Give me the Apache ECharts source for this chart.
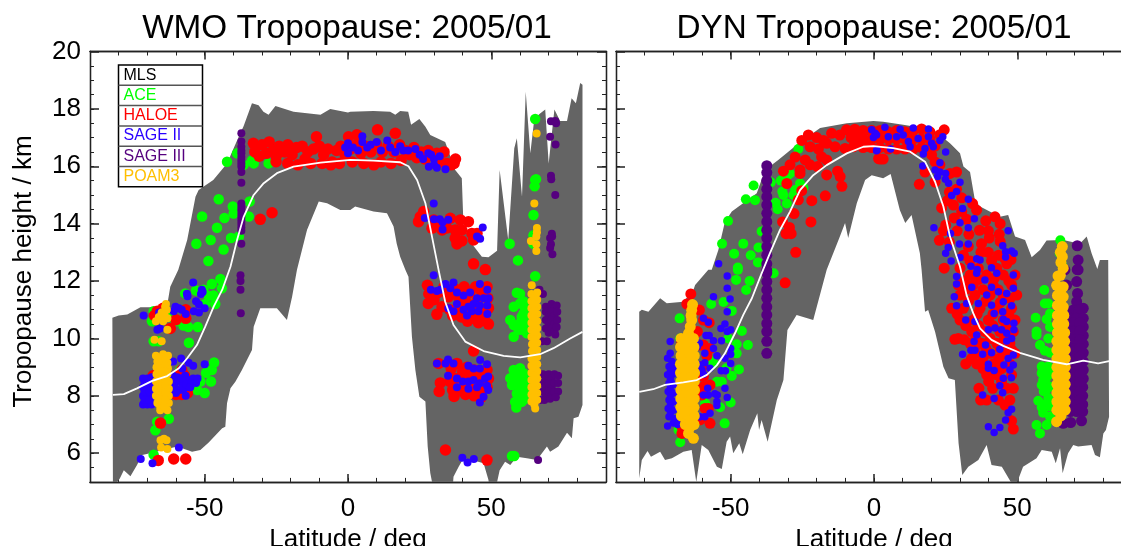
<!DOCTYPE html>
<html><head><meta charset="utf-8">
<style>html,body{margin:0;padding:0;background:#fff;overflow:hidden}#c{width:1121px;height:546px}</style>
<script src="https://cdn.jsdelivr.net/npm/echarts@6/dist/echarts.min.js"></script>
</head><body><div id="c"></div>
<script>
const panelTitles = ['WMO Tropopause: 2005/01','DYN Tropopause: 2005/01'];
const legendNames = ['MLS','ACE','HALOE','SAGE II','SAGE III','POAM3'];
const legendColors = ['#000000','#00ff00','#ff0000','#2a00ff','#55007f','#ffbf00'];
const latMajorTicks = [-50,0,50];
const heightMajorTicks = [6,8,10,12,14,16,18,20];

// ---- WMO grey band
const wmoUpperLat = [-82.2,-80,-77,-72.4,-66.6,-63,-62,-59.2,-56.1,-53.2,-52.1,-47,-42.2,-38.7,-36.4,-33.5,-31.2,-29.5,-27.7,-25.3,-19,-9.6,-6.2,0,0.8,8.9,14.7,16.5,18.2,21,22,24.9,27,28.7,33.9,37.4,39.7,40.3,43.2,46.7,49,52,52.9,55.9,58,58.9,60.7,62,63.6,65,67,68.8,70,72,74,76.4,78,79.5,81,81.8];
const wmoUpper = [10.72,10.8,10.83,11.09,11.09,11.2,11.8,12.39,13.43,14.94,15.17,15.52,16.1,16.9,17.4,18.2,18.13,17.9,17.8,18.1,17.9,17.8,18,17.87,17.9,17.93,17.9,17.8,17.93,17.9,17.45,17.65,17.38,17.09,16.85,15.87,15.58,13.9,13.3,12.85,12.83,13.06,15.87,13.43,16.63,16.98,14.94,18.6,16.45,17.66,17.84,17.98,16.1,17.98,17.58,17.58,18.37,18.2,18.9,18.84];
const wmoLowerLat = [-82,-79.6,-78.2,-75.9,-73.6,-71.8,-68.3,-59.6,-54.4,-51.5,-48.6,-43.9,-42.8,-42.2,-41,-39.3,-37,-33.5,-32.9,-30.6,-24.8,-21.3,-19.5,-17.8,-14.3,-10.2,-7.3,-2.7,0.8,2.5,8.9,13.6,15.9,17,18.2,20,21.1,22.3,23.5,24.9,27,27.8,28.7,29.5,36.6,36.8,38.6,40.3,43.2,47.3,49,49.2,51.8,52.9,54.8,56.6,58.9,62.4,65.9,69.4,70.5,73.4,76.4,78.1,78.7,80.4,81.8];
const wmoLower = [4.8,5.12,5.41,5.2,5.59,5.94,6.02,6.23,6.05,6.11,6.37,6.87,6.92,7.74,8.26,8.49,8.9,9.6,10.41,11.05,11.05,10.64,11.45,12.39,13.78,14.77,14.71,14.48,14.48,14.6,14.42,14.36,13.9,13.3,12.85,12.39,12.15,10.06,8.9,7.97,7.8,6.23,5.31,4.9,4.9,5.18,5.53,5.82,5.76,5.65,5.07,4.9,4.9,5.41,5.7,5.59,5.88,5.82,5.76,6.23,6.05,6.23,6.71,6.52,7.22,7.27,7.68];
// ---- DYN grey band
const dynUpperLat = [-81.9,-81,-78.7,-74.6,-72.3,-66.5,-63,-62.4,-57.8,-56.6,-54.3,-52,-49.6,-40.9,-38,-33.4,-27,-18.8,-9.5,-0.2,3.2,10.2,20.7,26.5,30,31.2,33.5,35.2,37,43.9,46.8,49.2,52.7,55,57.9,60.2,66,71.8,74.2,75.9,77.9,78.8,81.7];
const dynUpper = [10.93,11,10.93,11.4,11.23,11.28,11.69,11.86,12.39,12.39,13.08,14.07,14.42,15.06,15.87,16.22,16.74,17.33,17.5,17.58,17.55,17.45,17.27,16.8,16.45,15.99,15.8,14.82,14.6,14.24,14.3,13.55,13.43,12.83,13.08,13.41,13.43,13.3,13.55,12.97,12.42,12.73,12.73];
const dynLowerLat = [-81.9,-81,-79,-77.8,-74.6,-72.9,-70.5,-66.5,-63.6,-62,-60.1,-57.8,-54.8,-53.1,-51.4,-50.2,-49.1,-47,-45.8,-43.2,-40.7,-40.1,-39.2,-37.1,-33.9,-31.6,-30.2,-27,-21.2,-16.5,-11.9,-10.1,-9,-6,-3.1,-0.8,3.2,5.8,9,10.9,13.1,16,16.6,17.8,18.9,21.3,24.2,26,28.2,29.5,30.8,32.9,36.4,39.3,41,44.6,48,49.8,52,56.7,58.5,62,63.4,64.9,65.8,67.7,69.5,71.2,75.9,77.1,78.8,80,80.9,82];
const dynLower = [5.13,5.76,6.08,5.88,6.05,5.76,5.82,6.05,6.11,5,6.29,6.11,5.53,5.45,6.4,6.58,6,6.35,5.96,6.81,7.39,6.81,7.16,6.4,7.85,8.55,10.29,10.82,10.64,12.39,13.55,14.02,13.5,14.71,15.52,15.69,15.58,15.73,14.48,14.02,14.3,12.97,12.39,10.93,10.99,10.23,9.01,8.61,8.55,6.35,5.24,5.53,5.76,6.29,5.59,5.53,4.95,4.95,5.53,5.82,6.11,6.05,5.65,6.17,5.3,6,6.29,6.23,6.29,5.94,5.86,6.69,6.81,7.27];

// ---- white MLS means
const wmoMlsLat = [-82,-78.2,-73.6,-68.3,-63.1,-59,-56.1,-52.7,-49.8,-46.9,-43.9,-41,-38.7,-36.4,-32.9,-29.4,-24.8,-19,-9.6,0.8,8.9,18.2,21.1,24.1,27,29.3,31.6,33.9,36.8,40.9,47.3,54.3,60.1,67,71.7,77.5,81.8];
const wmoMls = [8.03,8.06,8.26,8.52,8.69,8.96,9.31,9.77,10.41,11.1,11.69,12.5,13.43,14.24,15,15.41,15.76,15.99,16.13,16.22,16.2,16.14,16,15.52,14.71,13.55,12.39,11.28,10.47,9.89,9.56,9.39,9.34,9.45,9.66,10,10.23];
const dynMlsLat = [-81.9,-77,-72.9,-66.5,-61.8,-58.3,-54.8,-52,-48.5,-45.6,-42.6,-39.2,-36.3,-32.8,-29.3,-25.8,-21.2,-16.5,-9.5,-3.7,-0.2,6.7,12.6,17.8,21.3,24.2,26.5,30,32.3,34.6,37,41,45.1,50.9,59,67.2,73,78.2,82];
const dynMls = [8.14,8.23,8.38,8.47,8.55,8.73,9.07,9.48,10.18,10.82,11.4,12.27,12.97,13.78,14.42,15.17,15.69,16.04,16.45,16.68,16.7,16.63,16.51,16.16,15.46,14.6,13.55,12.5,11.51,10.88,10.35,9.95,9.74,9.5,9.25,9.1,9.23,9.13,9.21];

// ---- WMO instruments [lat, height]
const wmoAce = [[-44.5,12.07],[-47.5,11.9],[-44,11.75],[-50.4,11.7],[-53,11.67],[-56.8,11.57],[-46.9,11.5],[-48.6,11.48],[-46.3,11.2],[-49.8,11.2],[-67.8,10.95],[-68.4,10.6],[-62,10.75],[-60,10.6],[-57.4,10.45],[-55.7,10.4],[-52.4,10.4],[-67.8,9.9],[-66,9.9],[-55.5,9.85],[-46.7,9.16],[-47.5,8.9],[-49.5,8.8],[-47.8,8.5],[-51.5,8.5],[-52.6,8.2],[-50,8.1],[-58.5,8.9],[-53.8,8.4],[-62.5,7.2],[-66.6,7.1],[-67.2,6.8],[-67.8,5.95],
[-42.2,16.16],[-38.7,16.45],[-36.4,16.05],[-33.5,16.2],[-32.9,16.1],[-27.7,16.1],[-24.8,16.33],[-45.1,14.85],[-34.3,14.77],[-40.2,14.6],[-39.9,14.35],[-34.6,14.25],[-43.1,14.2],[-50.9,14.25],[-45.7,13.86],[-47.9,13.43],[-52.9,13.3],[-40.8,13.5],[-38.1,13.55],[-43.4,13.1],[-48.7,12.7],
[65.3,17.65],[65.3,15.52],[65.6,15.55],[65.1,15.3],[64.7,14.3],[64.7,13.6],[64.7,13.3],[56.4,13.3],[59.3,12.72],[65.3,12.17],[60,11.56],[58.9,11.59],[61.2,11.3],[57.8,11.1],[60,11.22],[61.8,11.05],[60.6,10.76],[56.6,10.64],[57.8,10.47],[60,10.53],[61.8,10.47],[59.5,10.3],[57.8,10.06],[61.2,10.87],[60.6,10.3],[62.4,10.18],[57.8,8.9],[60,8.96],[56.6,8.61],[58.9,8.67],[61.2,8.79],[57.2,8.38],[59.5,8.38],[61.8,8.44],[58.9,8.08],[61.2,8.08],[58.3,7.79],[60.6,7.79],[58.7,7.59],[61.8,7.9],[57.2,5.9],[58,5.9],[62.5,8.7],[62.5,8.2],[62.5,10.7],[60,8.7],[60,8.2],[60,7.95]];
const wmoHaloe = [[-33,16.8],[-32.5,16.5],[-31,16.35],[-30,16.75],[-28.5,16.45],[-27.5,16.85],[-26,16.55],[-25,16.35],[-24,16.7],[-22,16.5],[-21,16.75],[-19.5,16.4],[-18,16.65],[-17.5,16.05],[-16,16.7],[-15,16.25],[-14,16.5],[-12,16.6],[-11,17.03],[-10,16.7],[-8.5,16.4],[-7,16.6],[-5.5,16.15],[-4,16.55],[-2.5,16.7],[-1,16.4],[0.2,17.03],[-3,16.1],[1,16.6],[1.5,16.15],[3.1,17.1],[3,16.75],[4.5,16.45],[5.5,16.1],[6,16.7],[8,16.5],[9,16.05],[10.3,17.27],[10,16.75],[11.5,16.15],[12,16.5],[14,16.7],[15,16.1],[16.5,17.15],[16,16.5],[18,16.75],[18.5,16.2],[20,16.55],[21.5,16.4],[23,16.65],[24,16.3],[25.5,16.5],[27,16.25],[28,16.55],[29.5,16.4],[31,16.45],[32,16.15],[33.5,16.5],[34.5,16.1],[36,16.05],[37.5,16.25],[37,16.1],[-21,16.1],[-25.1,16.16],[-30.6,14.15],[-26.5,14.38],[-13,16.1],[-9,16.1],[-6,16.05],
[24.6,14.07],[26.4,14.42],[29.9,14.13],[29.3,13.84],[32.8,13.78],[35.7,14.19],[37.4,13.78],[39.2,14.13],[42,14.07],[39.7,13.78],[37.4,13.49],[39.7,13.4],[38,13.29],[43.2,13.66],[45,13.66],[43.8,13.43],[25.2,14.24],[43.8,12.6],[47.9,12.4],[34.5,13.85],[32,14],
[27.7,11.85],[28.2,11.55],[28,11.22],[30,11.35],[31,10.84],[31.5,11.6],[32.8,11.1],[33.5,11.8],[35,11.45],[35.5,11],[36.5,10.8],[37,11.75],[38.5,11.45],[39,11.05],[39.5,10.75],[40.5,11.8],[41,11.3],[41.7,10.6],[42.5,11.6],[43,11.05],[43.5,10.7],[44.5,11.8],[45,11.3],[45.5,10.55],[46.5,11.65],[47,11],[47.5,10.7],[48.5,11.8],[48.8,11.4],[49,11.05],[49,10.5],[45,10.9],
[31.6,9.13],[38,9.13],[41.5,9],[32.2,8.45],[31.8,8.15],[36,8.95],[40,8.85],[42,8.85],[44,8.9],[46,8.85],[48.5,8.9],[35.5,8.5],[37.5,8.6],[39.5,8.65],[41.5,8.6],[43.5,8.65],[45.5,8.6],[47.5,8.65],[49,8.6],[36.5,8.2],[38.5,8.2],[40.5,8.2],[42.5,8.25],[44.5,8.2],[46.5,8.2],[48.5,8.3],[37,7.98],[41,8.05],[44,8],[46.5,7.95],[43.8,9.56],[34,6.11],[48.5,5.76],
[-66.5,10.95],[-67.5,10.8],[-64.5,11.05],[-60,10.65],[-56.6,11],[-56.6,10.7],[-62,10.35],[-58,8.9],[-57,8.7],[-60,8.7],[-60,8.05],[-58,8.05],[-56,8.1],[-68,8.7],[-68,8.2],[-65.4,7.05],[-66.2,5.75],[-60.8,5.8],[-56.6,5.8]];
const wmoSage2 = [[-71.5,7.7],[-70,7.7],[-68.5,7.7],[-71.5,8],[-70,8],[-68.5,8],[-71.5,8.3],[-70,8.3],[-68.5,8.3],[-71.5,8.6],[-70,8.6],[-68.5,8.65],[-71,7.85],[-69.2,7.85],[-71,8.15],[-69.2,8.15],[-71,8.45],[-69.2,8.45],[-62,8.1],[-60.5,8.4],[-59,8.2],[-58,8.45],[-56.8,8.7],[-55.5,8.55],[-54,8.6],[-53,8.45],[-61,8.7],[-59.5,8.65],[-57.5,8.2],[-55.5,8.3],[-61,8.15],[-60,8.55],[-58,8.6],[-56.5,8.4],[-54.5,8.45],[-52.5,8.6],
[-54,11.95],[-56.2,11.56],[-56,11.47],[-51,11.7],[-51.3,11.55],[-50.7,11.62],[-53,11.3],[-52,11.18],[-53.8,10.95],[-52,10.9],[-50,11.05],[-60.2,11.1],[-59,11.05],[-60.8,10.95],[-56.6,10.85],[-58,11],[-71.3,10.8],[-65.9,10.9],[-66.5,10.3],[-65.6,10.35],[-61,9.2],[-58.2,9.3],[-54,9.05],[-55.6,9.15],[-57.8,8.95],[-50,9.1],[-55,8.3],[-56.6,8],[-60,8.1],[-59,6.2],[-72.3,5.8],[-68.2,5.65],
[-1,16.65],[0,16.8],[0,16.45],[1.7,16.65],[3.5,16.55],[5,17.05],[5,16.85],[6.7,16.65],[7.9,16.75],[10,16.85],[11.5,16.55],[13.7,16.9],[14.7,16.65],[16.5,16.5],[18.2,16.7],[19.3,16.55],[21,16.55],[23.5,16.6],[25,16.4],[26.2,16.25],[28,16.45],[29,16.4],[28.2,15.98],[30,16.25],[30,16.05],[31,15.95],[32,16.35],[34,15.9],
[29.9,14.7],[26.8,14.2],[30,14.15],[32,14.15],[33,14.05],[35,14.14],[33,13.8],[47,13.87],[45,13.55],[46.1,13.47],
[29.9,12.2],[28.9,11.7],[31,11.65],[32.2,11.7],[34,11.9],[36.8,11.95],[35.7,11.75],[38,11.6],[40.3,11.5],[42.6,11.6],[46,11.9],[48.6,11.7],[45,11.4],[47.3,11.4],[49,11.4],[38,11.2],[42,11.1],[43.8,11.2],[46,11.15],[48.6,11.15],[35,11.05],[36.8,10.95],[40.3,11],[43.2,10.95],[45.5,10.95],[48.6,10.85],[41.5,10.8],
[34.9,9.27],[31,9.13],[34,9.13],[36.8,9.13],[42,9.05],[43.8,8.95],[46,8.95],[46.1,9.25],[48.5,9.1],[34.9,8.7],[38,8.6],[40,8.5],[42,8.5],[43.8,8.55],[46,8.44],[47.8,8.6],[48.9,8.67],[48.5,8.35],[38,8.3],[42,8.25],[45,8.3],[48.9,8.2],[47.3,7.97],[46,7.77],[39.9,5.84],[41.7,5.68],[43.9,5.8]];
const wmoSage3 = [[-37.5,12.2],[-37.5,12],[-37.5,11.7],[-37.4,10.88],[-37.2,17.15],[-37.2,16.86],[-37.2,16.68],[-37.2,16.55],[-37.2,16.45],[-37.2,16.32],[-37.2,16.2],[-37.2,16.1],[-37.2,15.99],[-37.2,15.8],[-37.2,15.43],[-37.2,14.7],[-37.2,14.58],[-37.2,14.46],[-37.2,14.34],[-37.2,14.22],[-37.2,14.1],[-37.2,13.99],[-37.2,13.87],[-37.2,13.75],[-37.2,13.3],
[70.8,17.57],[72.3,17.58],[72.6,17.5],[70.5,17.03],[72.4,16.76],[70.8,15.67],[70.9,15.55],[72.3,15],[71.1,13.65],[71.2,13.55],[70.5,13.5],[70.8,13.28],[70.5,13.15],[71.3,12.93],[66.8,11.7],[68,11.55],
[69,11.1],[70,11.05],[71,11.2],[72,11.05],[72.8,11.15],[69,10.93],[70,10.8],[71,10.93],[72,10.8],[73,10.93],[69,10.64],[70,10.5],[71,10.64],[72,10.5],[73,10.64],[69,10.35],[70,10.2],[71,10.35],[72,10.25],[72.8,10.4],[72.3,10.14],[69.4,9.9],[67.7,9.9],
[68,8.75],[69,8.6],[70,8.75],[71,8.6],[72,8.75],[73.3,8.7],[68,8.45],[69,8.3],[70,8.45],[71,8.3],[72,8.45],[73.3,8.45],[68,8.15],[69,8],[70,8.15],[71,8],[72,8.15],[73.3,8.15],[67,7.85],[68.5,7.85],[70.5,7.9],[72.5,7.95],[66.3,5.76]];
const wmoPoam = [[-67,9.4],[-64.5,9.45],[-62.8,9.4],[-66.5,9.2],[-64,9.2],[-63,9.15],[-66.8,9],[-64.8,8.95],[-62.8,8.95],[-66.8,8.75],[-65,8.75],[-63,8.75],[-67,8.5],[-65,8.5],[-62.5,8.5],[-67,8.25],[-65,8.25],[-62.5,8.25],[-67,8],[-65,8],[-62.5,8],[-66.5,7.75],[-64.5,7.75],[-62.5,7.75],[-65.5,7.5],[-63,7.5],
[-66,9.3],[-63.8,9.3],[-65.8,9.1],[-63.9,9.05],[-65.8,8.85],[-63.9,8.85],[-66,8.62],[-63.8,8.62],[-66,8.38],[-63.8,8.38],[-66,8.12],[-63.8,8.12],[-66,7.88],[-63.8,7.88],[-65.5,7.62],[-64,7.62],
[-63.5,11.2],[-63.2,11],[-64,10.8],[-66,10.75],[-67,10.6],[-64.5,10.6],[-63,10.7],[-65,10.9],[-63.8,11.1],[-67.5,9.95],[-65,9.9],[-63,10.3],[-65.4,6.45],[-63.3,6.45],[-65.2,6.2],[-63,6.15],[-64.2,6.5],
[65.8,17.14],[65,14.7],[65.9,13.85],[65.9,13.7],[65.7,13.55],[63.8,13.4],[65.7,13.28],[65.7,13.05],[64.1,11.85],
[64,11.55],[66,11.6],[64,11.3],[66,11.35],[64,11.05],[66,11.1],[64,10.8],[66,10.85],[64,10.55],[66,10.6],[64,10.3],[66,10.35],[64,10.05],[66,10.1],[64.2,9.8],[66,9.85],[64.2,9.55],[66,9.6],[64,9.3],[66,9.35],[64,9.05],[66,9.1],[64,8.8],[66,8.85],[64,8.55],[66,8.6],[64,8.3],[66,8.35],[64,8.05],[66,8.1],[64,7.8],[66,7.85],[65.3,7.56],
[65,11.45],[65,11.2],[65,10.95],[65,10.7],[65,10.45],[65,10.2],[65,9.95],[65,9.7],[65,9.45],[65,9.2],[65,8.95],[65,8.7],[65,8.45],[65,8.2],[65,7.95],[65,7.7]];

// ---- DYN instruments [lat, height]
const dynAce = [[-67.8,10.7],[-67.6,10],[-67.6,6.38],[-68.2,6.81],[-56.8,11.2],[-52.5,11.27],[-49.6,10.96],[-48.1,12.04],[-43.4,12],[-44.6,11.69],[-47.5,12.39],[-35,12.27],[-46.1,10.26],[-50.8,10],[-47.9,9.8],[-44,9.77],[-47.9,9.48],[-51.5,8.96],[-47.1,8.92],[-49.6,8.69],[-53.1,8.49],[-54.8,8.49],[-50,7.77],[-53.7,7.6],[-52.1,7.04],[-58.9,7.74],[-57.2,9.25],[-61.8,7.1],[-56,9.13],
[-26.4,16.6],[-32.5,15.5],[-36,15.44],[-42,15.33],[-44.7,14.85],[-41.5,14.82],[-32,15.12],[-31.6,15],[-30.4,14.7],[-34.3,14.73],[-33.6,14.5],[-28.1,15],[-25.8,15.4],[-24.6,15.25],[-27.5,15.17],[-29.3,15.75],[-30.4,15.64],[-50.9,14.09],[-53,13.3],[-45.6,13.3],[-48.8,12.95],[-43,12.9],[-40.3,13.17],[-40.5,12.65],[-47.5,12.47],[-39.2,13.73],
[59.4,11.69],[59.6,11.22],[60.8,11.22],[56.4,10.72],[60.2,10.67],[61.4,10.87],[61.4,10.4],[56.7,10.24],[57.9,9.77],[59.6,9.57],[56.7,10.12],[60.8,10],[58.5,9.02],[60.8,9.02],[58.5,8.79],[60.8,8.73],[58.5,8.38],[61.4,8.32],[57.3,7.83],[60.8,7.92],[59,7.41],[61.4,7.27],[56.7,6.98],[60.2,6.98],[57.9,6.69],[61.4,7.62],[65,13.42],[64.8,12.97],[65.4,12.6],[60,8.6],[60,8.2],[59.5,7.7],[59,8.9],[59,8.55],[59.2,8.15],[61.5,9.5],[61.5,8.9],[58.5,7.6]];
const dynHaloe = [[-25.2,16.9],[-22.9,17.09],[-20,17],[-17.6,16.9],[-14.8,17.15],[-11.9,17.09],[-9.6,17.27],[-6.7,17.29],[-3.7,17.2],[-22.3,16.68],[-19.4,16.6],[-16.5,16.8],[-13.6,16.68],[-10.1,16.62],[-7.2,16.68],[-4.8,16.9],[-2.5,16.8],[-27.5,16.32],[-29.3,16.05],[-31.6,15.83],[-24,16.22],[-22.3,16.05],[-25.8,15.87],[-25.8,15.75],[-19.7,15.99],[-16.5,16.22],[-18.3,16.33],[-16.5,15.7],[-12.7,15.83],[-11.8,15.64],[-11.2,15.3],[-17,14.97],[-21.7,14.8],[-30.4,15.4],[-25.2,15.15],[-26.4,14.83],[-27.9,14.35],[-31.9,14.06],[-29.5,13.87],[-30.7,13.65],[-28.9,13.65],[-22,14.06],[-27.3,13],[1.6,16.27],[-1.4,16.68],[-8,17],[-5,17.1],
[-3.8,17.25],[-0.8,17.25],[2.1,17.25],[5,17.2],[7.9,17.25],[10.8,17.2],[13.7,17.25],[16.6,17.3],[19.5,17.2],[-3.8,16.95],[-0.8,16.95],[2.1,16.95],[5,16.95],[7.9,16.95],[10.8,16.95],[13.7,16.95],[16.6,16.95],[19.5,16.95],[-3.8,16.65],[-0.8,16.65],[2.1,16.65],[5,16.6],[7.9,16.6],[10.8,16.6],[13.7,16.6],[16.6,16.65],[19.5,16.65],[2.1,16.25],[3.2,16.25],
[24.5,17.27],[23,17.1],[21.3,16.7],[20.1,16.4],[21.3,16.15],[23,16.05],[17.8,15.8],[21.3,15.45],[15.8,15.37],[28.8,15.8],[26.5,15.75],[28.8,15.2],[26.3,15.1],[25.6,14.8],[30.6,14.9],[27.7,14.65],[23.6,14.55],[34.4,14.7],[35.8,14.47],[30.6,14.42],[28,14.2],[32.3,14.15],[25,13.95],[24.2,13.75],[29,13.75],[39,14.1],[42.2,14.24],[44,14],[36.8,13.77],[39.9,13.75],[33.1,13.63],[37.5,13.3],[40.2,13.5],[43.7,13.63],[44,13.38],[22.8,13.42],[26.3,13.36],[32.9,13.2],[37.3,13],[39.9,13],[43.4,12.9],[45.5,12.8],[47.8,12.75],[31.2,12.9],[33.5,12.7],[41,12.7],[24.5,12.45],[30,12.45],[36.4,12.45],[42.8,12.45],[46.3,12.6],
[33.5,12.21],[39.3,12.21],[45.1,12.21],[49.2,12.21],[29.4,11.86],[34.6,11.86],[41.6,11.86],[48,11.86],[30,11.51],[35.2,11.51],[40.5,11.51],[45.1,11.51],[49.8,11.51],[27.1,11.05],[31.2,11.05],[37,11.05],[42.8,11.05],[48,11.05],[30,10.64],[34.6,10.64],[39.9,10.64],[45.1,10.64],[49.2,10.64],[34.1,10.24],[38.7,10.24],[43.9,10.24],[48.6,10.24],[29.4,10],[28.2,9.97],[33.5,9.83],[37.5,9.83],[42.8,9.83],[47.4,9.83],[35.2,9.48],[40.5,9.48],[45.7,9.48],[49.2,9.48],[32,9.11],[35.8,9.11],[41.6,9.11],[47.4,9.11],[39.3,8.73],[42.8,8.73],[48,8.73],[36.6,8.26],[41.4,8.26],[46.3,8.26],[48.6,8.26],[37.2,7.85],[39.3,7.85],[43.4,7.85],[47.4,7.85],[45.7,7.68],[48,7.13],[48.6,6.84],
[31.5,12],[36.5,12.05],[42,12.1],[47,12],[32,11.7],[38,11.7],[43.3,11.7],[47.5,11.4],[33,11.3],[39,11.3],[44,11.25],[29,10.85],[36,10.85],[41.5,10.85],[47,10.85],[32,10.45],[36.5,10.45],[41.5,10.45],[46,10.4],[31.5,9.95],[35.5,10],[40.5,10],[45.5,10],[35,9.65],[39,9.65],[44,9.65],[48,9.6],[34,9.3],[38,9.3],[43.5,9.3],[38,8.95],[44.5,8.95],[40,8.5],[44.5,8.5],
[-60.7,9.77],[-59.5,9.77],[-57.2,9.65],[-58.3,9.4],[-60,9.02],[-59.5,8.67],[-57.2,8.38],[-59.5,8.32],[-60,8.03],[-58.9,7.56],[-57.8,7.56],[-57.2,7.04],[-60.7,7.16],[-67,6.69],[-67,6.92],[-59.5,10.64],[-57.5,10.55],[-61.6,10.24],[-62.4,10.18],[-63.9,11.55],[-65.3,11.2],[-60.9,10.99],[-31,11.94],[-67,9.89]];
const dynSage2 = [[-72,9.31],[-70.5,9.2],[-71.5,9.02],[-69.8,8.95],[-72,8.73],[-70.2,8.75],[-71.5,8.44],[-69.5,8.4],[-71.8,8.15],[-70,8.1],[-71.5,7.85],[-69.8,7.8],[-71.8,7.56],[-70,7.5],[-71.5,7.27],[-69.5,7.2],[-72,6.95],[-70,7.05],[-68.5,7],[-71.1,9.89],[-71.1,9.48],[-71,8.88],[-71,8.58],[-71,8.3],[-71,8],[-71,7.7],[-71,7.4],
[-59.5,10.7],[-57.8,10.56],[-56,11.45],[-51.2,12.18],[-51.2,11.75],[-50.2,11.37],[-51.2,10.93],[-52,10.5],[-50,10.3],[-53.4,10.35],[-51.2,10.24],[-53.2,9.92],[-56,9.92],[-58.6,10.1],[-57.5,10.1],[-60.9,9.83],[-61.6,9.72],[-56,9.65],[-50,9.65],[-59,9.48],[-50,9.45],[-52,9.31],[-54.8,9.4],[-59,9.15],[-60.7,9.07],[-50,9.13],[-51.8,8.87],[-53.3,8.87],[-57.2,8.96],[-60,8.9],[-59.5,8.75],[-52,8.26],[-58,8.26],[-59.5,8.03],[-57.8,8.03],[-55.5,8.07],[-54.7,8.03],[-51.2,7.94],[-54.8,7.8],[-54.8,7.66],[-57.2,7.39],[-60.7,7.27],[-59,7.27],[-54.2,12.6],
[-0.8,17.27],[0.4,17.15],[-0.2,17],[1,16.57],[3.8,17.36],[9.1,17.29],[13.7,17.33],[19,17.3],[15.4,16.97],[0.9,17.09],[5,17.03],[7.9,17.03],[10.2,17.09],[12,16.86],[19,17.03],[20.1,16.8],[24,17.03],[23,16.9],[17.8,16.62],[20.7,16.68],[12.6,16.68],[5.8,16.6],[0.9,16.54],[25,16.5],[17.2,16.43],[17,16.01],[23,16.12],[21.3,15.87],[23,15.8],[25,15.75],[22.2,15.64],[24.9,15.55],[26,15.41],[30,15.44],[28.8,15.12],[27.1,14.98],[32.9,14.85],[30.9,14.53],[35,14.17],[30,14.03],[20.9,13.86],[32.9,13.86],[26.7,13.66],[46.8,13.75],[29.8,13.29],[25.9,13.17],[32.9,13.29],[44.9,13.23],[48,13.05],[48.9,12.97],[45.9,13.02],[25,12.97],[45.9,12.84],[30,12.82],[37,12.73],[35.8,12.78],[26.9,12.7],[33.8,12.52],[41,12.46],[36,12.4],
[28.8,12.16],[35.8,12.27],[38.7,12.04],[42.8,12.27],[48.6,12.21],[28.8,11.9],[34.1,11.78],[48.6,11.75],[41,11.78],[43.4,11.63],[39.3,11.51],[46.3,11.57],[28,11.45],[32.3,11.22],[36.4,11.22],[41,11.16],[45.1,11.28],[48,11.14],[28.8,11.14],[44.9,10.93],[41.9,10.87],[32,10.64],[35.2,10.59],[45.1,10.67],[48.8,10.53],[46.3,10.59],[39.9,10.3],[42.2,10.36],[44.5,10.3],[48.8,10.3],[46.3,10.18],[35.8,10.12],[48,10],[46.3,9.91],[34.9,9.89],[38.9,9.77],[43.9,9.62],[33.8,9.59],[35.2,9.59],[30.9,9.45],[41,9.5],[37.9,9.45],[48.6,9.42],[46.8,9.3],[45.3,9.07],[39.9,9.1],[48.6,9.07],[47.4,8.9],[39.9,8.96],[41.9,8.88],[45.1,8.61],[47.9,8.63],[43.9,8.35],[44.9,8.11],[37.9,8.03],[41.9,7.91],[48,7.53],[46.8,7.41],[45.9,7.16],[39.9,6.92],[43.9,6.9],[41.9,6.72]];
const dynSage3 = [[-37.4,16.02],[-37.4,15.78],[-37.4,15.5],[-37.4,15.2],[-37.4,14.94],[-37.4,14.65],[-37.4,14.36],[-37.4,14.07],[-37.4,13.77],[-37.4,13.5],[-37.4,13.2],[-37.4,12.9],[-37.4,12.6],[-37.4,12.37],[-37.4,12.28],[-37.4,11.98],[-37.4,11.69],[-37.4,11.4],[-37.4,11.1],[-37.4,10.82],[-37.4,10.52],[-37.4,10.24],[-37.4,9.9],[-37.4,9.48],
[70.9,13.23],[71.2,12.73],[70.9,12.4],[71.2,12.39],[66.6,12.39],[70.7,11.98],[67.2,11.86],[71,11.57],[70.7,11.28],[73,11.05],[69.5,10.99],[71.5,11],
[68.5,10.7],[70.7,10.7],[73,10.7],[68.5,10.4],[70.7,10.4],[73,10.4],[68.5,10.1],[70.7,10.1],[73,10.1],[68.5,9.8],[70.7,9.8],[73,9.8],[68.5,9.5],[70.7,9.5],[73,9.5],[68.5,9.2],[70.7,9.2],[73,9.2],[68.5,8.9],[70.7,8.9],[73,8.9],[68.5,8.6],[70.7,8.6],[73,8.6],[68.5,8.3],[70.7,8.3],[72.8,8.3],[68.5,8],[70.7,8],[72.8,8],[68.5,7.7],[70.7,7.7],[72.8,7.7],[68.5,7.45],[70.7,7.45],[72.8,7.45],[66,7.04],[68.6,7.07],[72.4,7.13],
[69.6,10.55],[71.8,10.55],[69.6,10.25],[71.8,10.25],[69.6,9.95],[71.8,9.95],[69.6,9.65],[71.8,9.65],[69.6,9.35],[71.8,9.35],[69.6,9.05],[71.8,9.05],[69.6,8.75],[71.8,8.75],[69.6,8.45],[71.8,8.45],[69.6,8.15],[71.8,8.15],[69.6,7.85],[71.8,7.85],[69.6,7.55],[71.8,7.55]];
const dynPoam = [[-63.3,11.18],[-63.6,10.98],[-63.6,10.64],[-64.1,10.41],[-64.7,10.18],[-67.3,10],[-65,10],[-63,10],[-67.5,9.7],[-65.2,9.7],[-62.8,9.7],[-67.3,9.4],[-65,9.4],[-62.7,9.4],[-67.5,9.1],[-65,9.1],[-62.7,9.1],[-67.5,8.8],[-65,8.8],[-62.6,8.8],[-67.4,8.5],[-65,8.5],[-62.7,8.5],[-67.4,8.2],[-65,8.2],[-62.6,8.2],[-67.4,7.9],[-65,7.9],[-62.7,7.9],[-67.4,7.6],[-65,7.6],[-62.8,7.6],[-67.2,7.3],[-65,7.3],[-62.7,7.3],[-65.8,7],[-64,7],[-62.8,7],[-64.1,6.92],[-64.7,6.69],[-63,6.52],
[-66.2,9.85],[-63.9,9.85],[-66.2,9.55],[-63.9,9.55],[-66.2,9.25],[-63.9,9.25],[-66.2,8.95],[-63.9,8.95],[-66.2,8.65],[-63.9,8.65],[-66.2,8.35],[-63.9,8.35],[-66.2,8.05],[-63.9,8.05],[-66.2,7.75],[-63.9,7.75],[-66.2,7.45],[-63.9,7.45],[-64,7.15],[-63.8,10.8],
[65.7,13.2],[65.7,12.85],[66,12.45],[64.2,12.18],[63.7,11.85],[66,11.8],[64,11.5],[66,11.45],[64,11.15],[66,11.1],[64,10.8],[66.2,10.8],[64,10.5],[66.2,10.5],[64,10.2],[66.5,10.2],[63.8,9.9],[66.5,9.9],[63.8,9.6],[66.7,9.6],[63.8,9.3],[66.7,9.3],[63.8,9],[66.7,9],[63.8,8.7],[66.7,8.7],[63.8,8.4],[66.7,8.4],[63.8,8.1],[66.7,8.1],[63.8,7.8],[66.7,7.8],[63.8,7.5],[66.7,7.5],[65.2,7.3],[63.7,7.1],
[65,13],[65.2,12.65],[65,12.2],[65,11.65],[65,11.3],[65,10.95],[65,10.65],[65.2,10.35],[65.2,10.05],[65.2,9.75],[65.2,9.45],[65.2,9.15],[65.2,8.85],[65.2,8.55],[65.2,8.25],[65.2,7.95],[65.2,7.65]];

const COL = {band:'#646464', axis:'#222222'};
const FONT = '"Liberation Sans", Arial, sans-serif';
const grids = [{left:90,top:51.5,width:516,height:430.4,outerBoundsMode:'none'},{left:616,top:51.5,width:516,height:430.4,outerBoundsMode:'none'}];

function axesFor(g, isLeft){
  const common = {gridIndex:g,min:-90,max:90,type:'value',splitLine:{show:false},axisLine:{onZero:false,lineStyle:{color:COL.axis,width:1.3}}};
  const xs = [
    {...common,position:'bottom',name:'Latitude / deg',nameLocation:'middle',nameGap:38,nameTextStyle:{fontFamily:FONT,fontSize:26,color:'#000'},
      axisLabel:{customValues:latMajorTicks,fontFamily:FONT,fontSize:26,color:'#000',margin:14},
      axisTick:{customValues:latMajorTicks,inside:true,length:8,lineStyle:{color:COL.axis,width:1.5}}},
    {...common,position:'top',axisLabel:{show:false},axisTick:{customValues:latMajorTicks,inside:true,length:8,lineStyle:{color:COL.axis,width:1.5}}},
    {...common,position:'bottom',interval:10,axisLabel:{show:false},axisTick:{inside:true,length:4,lineStyle:{color:COL.axis,width:1}}},
    {...common,position:'top',interval:10,axisLabel:{show:false},axisTick:{inside:true,length:4,lineStyle:{color:COL.axis,width:1}}}
  ];
  const yc = {gridIndex:g,min:5,max:20,type:'value',splitLine:{show:false},axisLine:{onZero:false,lineStyle:{color:COL.axis,width:1.3}}};
  const ys = [
    {...yc,position:'left',
      axisLabel:{show:isLeft,customValues:heightMajorTicks,fontFamily:FONT,fontSize:26,color:'#000',margin:9},
      axisTick:{customValues:heightMajorTicks,inside:true,length:9,lineStyle:{color:COL.axis,width:1.5}}},
    {...yc,position:'right',axisLabel:{show:false},axisTick:{customValues:heightMajorTicks,inside:true,length:9,lineStyle:{color:COL.axis,width:1.5}}},
    {...yc,position:'left',interval:0.5,axisLabel:{show:false},axisTick:{inside:true,length:4,lineStyle:{color:COL.axis,width:1}}},
    {...yc,position:'right',interval:0.5,axisLabel:{show:false},axisTick:{inside:true,length:4,lineStyle:{color:COL.axis,width:1}}}
  ];
  return {xs,ys};
}
const a0 = axesFor(0,true), a1 = axesFor(1,false);

function band(g, uLat, u, lLat, l){
  return {type:'custom',xAxisIndex:g*4,yAxisIndex:g*4,coordinateSystem:'cartesian2d',clip:true,silent:true,z:1,
    data:[[uLat[0],u[0]]],
    renderItem:function(p,api){
      const pts=[];
      uLat.forEach((x,i)=>pts.push(api.coord([x,u[i]])));
      for(let i=lLat.length-1;i>=0;i--) pts.push(api.coord([lLat[i],l[i]]));
      return {type:'polygon',shape:{points:pts},style:{fill:COL.band,stroke:null}};
    }};
}
function dots(g,name,color,data,size,z){
  return {type:'scatter',name,xAxisIndex:g*4,yAxisIndex:g*4,data,symbol:'circle',symbolSize:size,silent:true,z,clip:true,itemStyle:{color,opacity:1}};
}
function mean(g,lat,h){
  return {type:'line',xAxisIndex:g*4,yAxisIndex:g*4,data:lat.map((x,i)=>[x,h[i]]),showSymbol:false,silent:true,z:9,clip:true,lineStyle:{color:'#ffffff',width:1.8}};
}
const legendX=118.5, legendY=65, rowH=20.3, legendW=84;
const legendGfx=[{type:'rect',shape:{x:legendX,y:legendY,width:legendW,height:rowH*6},style:{fill:'#fff',stroke:'#000',lineWidth:1.5},z:20}];
legendNames.forEach((n,i)=>{
  if(i>0) legendGfx.push({type:'line',shape:{x1:legendX,y1:legendY+rowH*i,x2:legendX+legendW,y2:legendY+rowH*i},style:{stroke:'#555',lineWidth:1.5},z:21});
  legendGfx.push({type:'text',x:legendX+5,y:legendY+rowH*i+rowH/2,style:{text:n,fill:legendColors[i],font:'16px '+FONT,textVerticalAlign:'middle',textBaseline:'middle'},z:22});
});
legendGfx.push({type:'text',x:24,y:271.5,rotation:Math.PI/2,style:{text:'Tropopause height / km',fill:'#000',font:'26px '+FONT,textAlign:'center',textVerticalAlign:'middle',textBaseline:'middle'},z:22});

const chart = echarts.init(document.getElementById('c'),null,{renderer:'canvas'});
chart.setOption({
  animation:false,backgroundColor:'#fff',
  title:[
    {text:panelTitles[0],left:342,top:7,textAlign:'center',textStyle:{fontFamily:FONT,fontSize:33.3,fontWeight:'normal',color:'#000'}},
    {text:panelTitles[1],left:869,top:7,textAlign:'center',textStyle:{fontFamily:FONT,fontSize:33.3,fontWeight:'normal',color:'#000'}}
  ],
  grid:grids,
  xAxis:[...a0.xs,...a1.xs],
  yAxis:[...a0.ys,...a1.ys],
  series:[
    band(0,wmoUpperLat,wmoUpper,wmoLowerLat,wmoLower),
    dots(0,'ACE',legendColors[1],wmoAce,10.5,3),
    dots(0,'HALOE',legendColors[2],wmoHaloe,11.5,4),
    dots(0,'SAGE II',legendColors[3],wmoSage2,8,5),
    dots(0,'SAGE III',legendColors[4],wmoSage3,8,6),
    dots(0,'POAM3',legendColors[5],wmoPoam,8,7),
    mean(0,wmoMlsLat,wmoMls),
    band(1,dynUpperLat,dynUpper,dynLowerLat,dynLower),
    dots(1,'ACE',legendColors[1],dynAce,10,3),
    dots(1,'HALOE',legendColors[2],dynHaloe,11,4),
    dots(1,'SAGE II',legendColors[3],dynSage2,7.5,5),
    dots(1,'SAGE III',legendColors[4],dynSage3,11,6),
    dots(1,'POAM3',legendColors[5],dynPoam,11,7),
    mean(1,dynMlsLat,dynMls)
  ],
  graphic:legendGfx
});
</script></body></html>
